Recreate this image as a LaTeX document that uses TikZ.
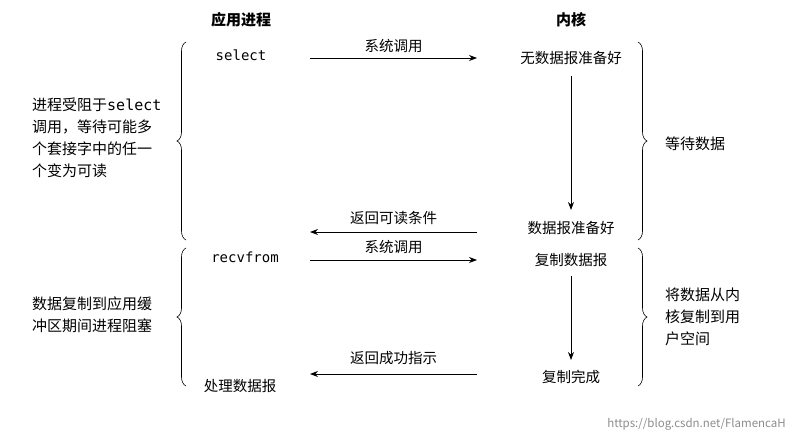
\documentclass[tikz,border=0pt]{standalone}
\usepackage{fontspec}
\setmainfont{Noto Sans CJK SC}
\setmonofont{DejaVu Sans Mono}
\usetikzlibrary{decorations.pathreplacing,arrows.meta}
\begin{document}
\begin{tikzpicture}[x=1pt,y=-1pt,
  txt/.style={font=\fontsize{14.5}{16}\selectfont,inner sep=0pt},
  hd/.style={font=\fontsize{15}{16}\selectfont\bfseries,inner sep=0pt},
  mono/.style={font=\fontsize{14}{16}\selectfont\ttfamily,inner sep=0pt},
  side/.style={font=\fontsize{15}{22}\selectfont,inner sep=0pt,align=left,anchor=north west},
  arr/.style={-{Stealth[length=8pt,width=6pt]},line width=0.8pt},
  br/.style={decorate,decoration={brace,amplitude=9pt},line width=0.6pt}]
\useasboundingbox (0,0) rectangle (794,441);
\node[hd] (h1) at (241,20) {应用进程};
\node[hd] (h2) at (571,20) {内核};
\node[mono] (sel) at (241,55) {select};
\node[txt] (k1) at (571,58) {无数据报准备好};
\node[txt] (k2) at (571,228) {数据报准备好};
\node[mono] (rcv) at (245,257) {recvfrom};
\node[txt] (k3) at (571,260) {复制数据报};
\node[txt] (k4) at (571,377) {复制完成};
\node[txt] (p) at (240,386) {处理数据报};
\coordinate (a1) at (310,58); \coordinate (b1) at (477,58);
\coordinate (a2) at (477,232); \coordinate (b2) at (310,232);
\coordinate (a3) at (310,260); \coordinate (b3) at (477,260);
\coordinate (a4) at (477,374); \coordinate (b4) at (310,374);
\draw[arr] (a1) -- node[txt,above=5pt]{系统调用} (b1);
\draw[arr] (a2) -- node[txt,above=7pt]{返回可读条件} (b2);
\draw[arr] (a3) -- node[txt,above=6pt]{系统调用} (b3);
\draw[arr] (a4) -- node[txt,above=9pt]{返回成功指示} (b4);
\draw[arr] (571,76) -- (571,210);
\draw[arr] (571,276) -- (571,360);
\draw[br] (186,240) -- (186,42);
\draw[br] (186,386) -- (186,248);
\draw[br] (638,42) -- (638,240);
\draw[br] (638,248) -- (638,386);
\node[side] (l1) at (32,98) {进程受阻于{\ttfamily select}\\调用，等待可能多\\个套接字中的任一\\个变为可读};
\node[side] (l2) at (32,297) {数据复制到应用缓\\冲区期间进程阻塞};
\node[side] (r1) at (665,137) {等待数据};
\node[side] (r2) at (665,288) {将数据从内\\核复制到用\\户空间};
\node[font=\fontsize{11.5}{12}\selectfont,text=black!45,inner sep=0pt,anchor=east] (wm) at (786,424) {https://blog.csdn.net/FlamencaH};
\end{tikzpicture}
\end{document}
